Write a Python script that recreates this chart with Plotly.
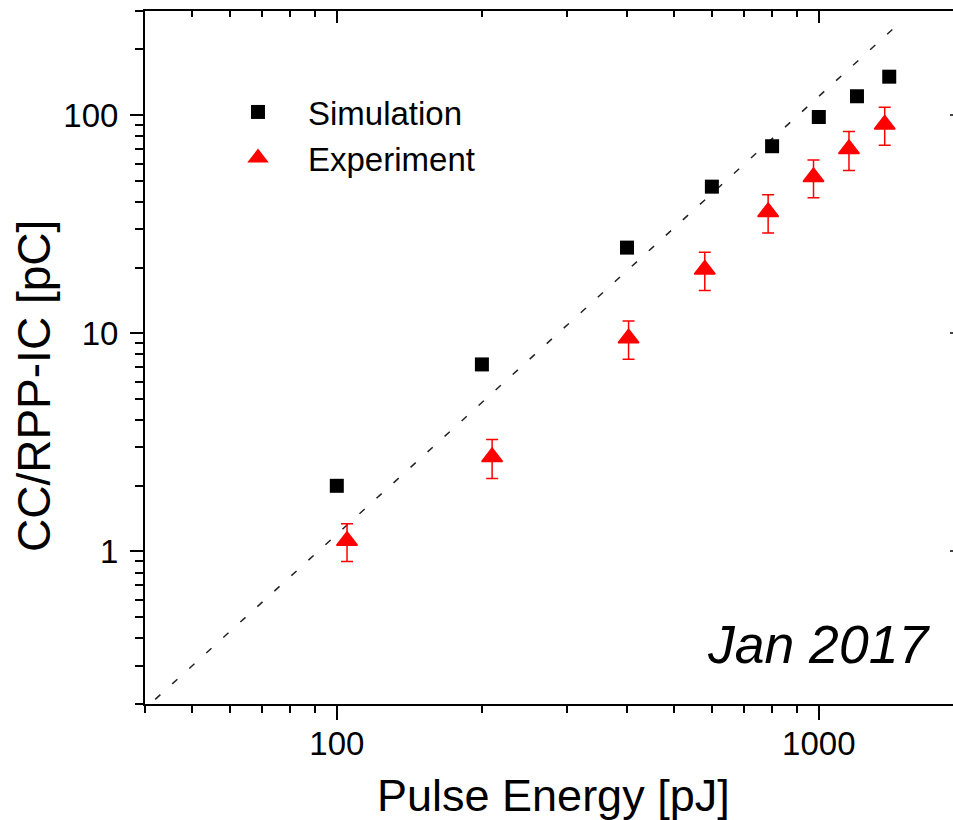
import math
import plotly.graph_objects as go

# ---- data ----
sim_energy = [100, 200, 400, 600, 800, 1000, 1200, 1400]
sim_charge = [2.0, 7.2, 24.7, 47, 72, 98, 122, 150]

exp_energy = [105, 210, 403, 580, 785, 975, 1155, 1370]
exp_charge = [1.12, 2.71, 9.5, 19.6, 36, 52, 70, 90.6]
exp_error = [0.22, 0.55, 1.9, 3.9, 7.2, 10.2, 14.2, 17.9]

fit_energy = [42, 1500]
fit_charge = [0.21, 275]

x_tick_labels = ["100", "1000"]
y_tick_labels = ["1", "10", "100"]

# ---- layout geometry ----
W, H = 953, 820
L, T, B = 145, 11, 704
x_range = [math.log10(40), math.log10(40) + (W - L) / 482.0]
y_range = [math.log10(0.2), math.log10(300)]

FONT = "Liberation Sans, Arial, sans-serif"


def px(xp):
    return (xp - L) / (W - L)


def py(yp):
    return (B - yp) / (B - T)


fig = go.Figure()

fig.add_trace(go.Scatter(
    x=fit_energy, y=fit_charge, mode="lines",
    line=dict(color="#222222", width=1.5, dash="7px,16px"),
    showlegend=False, hoverinfo="skip",
))

fig.add_trace(go.Scatter(
    x=sim_energy, y=sim_charge, mode="markers", name="Simulation",
    legendgroup="sim",
    marker=dict(symbol="square", size=14, color="black"),
))

fig.add_trace(go.Scatter(
    x=exp_energy, y=exp_charge, mode="markers", name="Experiment",
    legendgroup="exp",
    marker=dict(symbol="triangle-up", size=18, color="red",
                line=dict(color="red", width=1.5)),
    error_y=dict(type="data", array=exp_error, visible=True,
                 color="red", thickness=1.5, width=6),
))

# dummy trace to activate the mirror axes (top / right)
fig.add_trace(go.Scatter(x=[], y=[], xaxis="x2", yaxis="y2",
                         showlegend=False, hoverinfo="skip"))

fig.update_layout(
    width=W, height=H,
    margin=dict(l=L, r=0, t=T, b=H - B, pad=0),
    paper_bgcolor="white", plot_bgcolor="white",
    font=dict(family=FONT, color="black"),
    showlegend=True,
    legend=dict(
        x=px(208), y=py(84), xanchor="left", yanchor="top",
        bgcolor="rgba(0,0,0,0)", borderwidth=0,
        font=dict(size=33, family=FONT, color="black"),
        itemwidth=90, tracegroupgap=0, traceorder="grouped",
    ),
    xaxis=dict(
        type="log", range=x_range, showgrid=False, zeroline=False,
        showline=True, linecolor="black", linewidth=2,
        ticks="outside", ticklen=14, tickwidth=2, tickcolor="black",
        dtick=1, tick0=0, exponentformat="none",
        tickfont=dict(size=33, family=FONT, color="black"),
        minor=dict(ticks="outside", ticklen=7, tickwidth=2,
                   tickcolor="black", dtick="D1", showgrid=False),
        ticklabelstandoff=-5,
    ),
    yaxis=dict(
        type="log", range=y_range, showgrid=False, zeroline=False,
        showline=True, linecolor="black", linewidth=2,
        ticks="outside", ticklen=13, tickwidth=2, tickcolor="black",
        dtick=1, tick0=0, exponentformat="none",
        tickfont=dict(size=33, family=FONT, color="black"),
        minor=dict(ticks="outside", ticklen=8, tickwidth=2,
                   tickcolor="black", dtick="D1", showgrid=False),
        ticklabelstandoff=5,
    ),
    xaxis2=dict(
        type="log", range=x_range, overlaying="x", side="top",
        anchor="y2", showgrid=False, zeroline=False,
        showline=True, linecolor="black", linewidth=2,
        ticks="inside", ticklen=12, tickwidth=2, tickcolor="black",
        dtick=1, tick0=0, showticklabels=False,
        minor=dict(ticks="inside", ticklen=6, tickwidth=2,
                   tickcolor="black", dtick="D1", showgrid=False),
    ),
    yaxis2=dict(
        type="log", range=y_range, overlaying="y", side="right",
        anchor="x2", showgrid=False, zeroline=False, showline=False,
        ticks="inside", ticklen=3, tickwidth=2, tickcolor="#444444",
        dtick=1, tick0=0, showticklabels=False,
    ),
    annotations=[
        dict(text="CC/RPP-IC [pC]", textangle=-90, showarrow=False,
             xref="paper", yref="paper", x=px(34), y=py(386),
             xanchor="center", yanchor="middle",
             font=dict(size=46, family=FONT, color="black")),
        dict(text="Pulse Energy [pJ]", showarrow=False,
             xref="paper", yref="paper", x=px(553), y=py(795),
             xanchor="center", yanchor="middle",
             font=dict(size=45, family=FONT, color="black")),
        dict(text="<i>Jan 2017</i>", showarrow=False,
             xref="paper", yref="paper", x=px(818), y=py(644),
             xanchor="center", yanchor="middle",
             font=dict(size=53.5, family=FONT, color="black")),
    ],
)

fig.write_html("out.html")
